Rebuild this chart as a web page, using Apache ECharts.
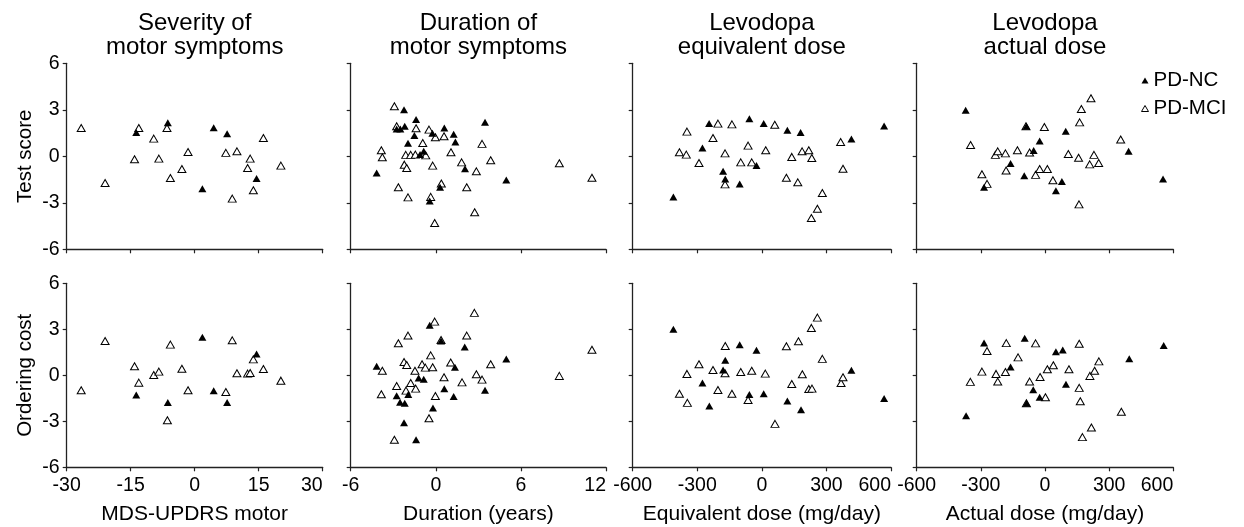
<!DOCTYPE html>
<html><head><meta charset="utf-8">
<script src="https://cdn.jsdelivr.net/npm/echarts@6/dist/echarts.min.js"></script>
<style>html,body{margin:0;padding:0;background:#fff}#c{width:1244px;height:527px}</style>
</head><body><div id="c"></div>
<script>
// ---- text / categories ----
const panelTitles = ['Severity of\nmotor symptoms', 'Duration of\nmotor symptoms', 'Levodopa\nequivalent dose', 'Levodopa\nactual dose'];
const xAxisNames = ['MDS-UPDRS motor', 'Duration (years)', 'Equivalent dose (mg/day)', 'Actual dose (mg/day)'];
const rowNames = ['Test score', 'Ordering cost'];
const groupNames = ['PD-NC', 'PD-MCI'];
// ---- axis ticks ----
const xMins = [-30, -6, -600, -600];
const xMaxs = [30, 12, 600, 600];
const xSteps = [15, 6, 300, 300];
const yMin = -6, yMax = 6, yStep = 3;

// ---- data: [x, y] ----
const sevTestNC = [[-13.7,1.53],[-6.3,2.17],[1.8,-2.09],[4.45,1.85],[7.6,1.46],[14.5,-1.44]];
const sevTestMCI = [[-26.6,1.83],[-21.0,-1.72],[-13.1,1.83],[-14.1,-0.19],[-9.6,1.14],[-8.4,-0.15],[-6.5,1.83],[-5.7,-1.40],[-3.0,-0.82],[-1.56,0.28],[7.3,0.22],[9.9,0.32],[13.0,-0.15],[12.4,-0.75],[13.75,-2.19],[8.8,-2.73],[16.1,1.18],[20.2,-0.6]];
const sevOrderNC = [[-13.7,-1.28],[-6.3,-1.78],[1.8,2.48],[4.45,-1.0],[7.6,-1.78],[14.5,1.39]];
const sevOrderMCI = [[-26.6,-0.98],[-21.0,2.24],[-14.1,0.59],[-13.1,-0.48],[-9.6,0.02],[-8.4,0.24],[-5.7,2.0],[-6.4,-2.93],[-3.0,0.43],[-1.56,-0.98],[8.8,2.28],[7.3,-1.09],[9.9,0.13],[12.4,0.11],[13.0,0.15],[13.75,1.04],[16.1,0.41],[20.2,-0.35]];

const durTestNC = [[-4.17,-1.08],[-2.24,3.01],[-2.76,1.76],[-2.5,1.76],[-2.19,1.94],[-1.39,2.37],[-1.51,1.35],[-1.96,0.84],[-1.11,0.11],[-0.85,0.32],[-0.24,1.48],[0.6,1.83],[1.26,1.42],[1.38,0.92],[2.06,-0.8],[3.47,2.19],[0.3,-2.0],[-0.43,-2.88],[4.97,-1.53]];
const durTestMCI = [[-2.92,3.23],[-3.84,0.39],[-3.77,-0.06],[-2.76,1.94],[-2.22,-0.54],[-2.05,-0.75],[-2.64,-2.0],[-1.96,-2.65],[-2.12,0.09],[-1.77,0.09],[-1.44,0.11],[-1.39,1.81],[-0.92,0.86],[-0.71,0.06],[-0.48,1.72],[-0.22,-0.6],[-0.36,-2.62],[-0.08,-4.3],[-0.03,1.23],[0.58,1.29],[0.39,-1.76],[1.07,0.26],[1.82,-0.39],[2.18,-2.0],[2.86,-0.97],[3.26,0.80],[3.87,-0.26],[2.74,-3.61],[8.71,-0.45],[11.01,-1.38]];
const durOrderNC = [[-4.17,0.59],[-0.43,3.26],[0.37,2.24],[2.04,1.85],[4.97,1.07],[1.35,0.52],[-1.21,-0.17],[-0.85,-0.26],[0.6,-0.87],[-2.76,-1.33],[-1.94,-1.26],[-2.52,-1.76],[-2.19,-1.83],[1.26,-1.39],[3.47,-0.98],[-0.2,-2.13],[-2.24,-3.09],[-1.39,-4.2]];
const durOrderMCI = [[2.72,4.07],[-0.08,3.5],[-1.96,2.59],[-2.64,2.09],[0.37,2.30],[2.18,2.59],[-0.36,1.30],[-2.24,0.87],[-2.05,0.67],[-3.77,0.30],[-1.47,0.30],[-0.97,0.72],[-0.74,0.50],[-0.22,0.52],[1.05,0.83],[3.87,0.72],[0.58,-0.13],[1.85,-0.46],[2.86,0.07],[3.26,-0.28],[-2.76,-0.70],[-1.77,-0.5],[-1.42,-0.87],[-2.1,-1.0],[-3.84,-1.24],[-0.03,-1.35],[-0.48,-2.80],[-2.92,-4.2],[8.71,-0.04],[11.01,1.67]];

const eqTestNC = [[-411,-2.62],[-276,0.54],[-245,2.11],[-58,2.43],[8.6,2.11],[-180,-0.97],[-170,-1.46],[-103,-1.78],[-25,-0.6],[118.5,1.68],[180,1.53],[416,1.12],[568,1.96]];
const eqTestMCI = [[-348,1.59],[-383,0.26],[-351,0.11],[-292,-0.43],[-227,1.18],[-204,2.11],[-139,2.06],[-171,0.19],[-171,-1.81],[-98,-0.39],[-64,0.69],[-47,-0.39],[18,0.39],[60,2.04],[114,-1.38],[139,-0.04],[167,-1.68],[187,0.32],[218,0.39],[232,-0.11],[281,-2.37],[258,-3.38],[230,-3.98],[366,0.92],[377,-0.80]];
const eqOrderNC = [[-411,3.0],[-276,-0.5],[-244,-2.0],[-180,0.35],[-170,0.98],[-103,2.0],[-25,1.63],[-58,-1.26],[8.6,-1.2],[118.5,-1.67],[182,-2.24],[416,0.33],[568,-1.52]];
const eqOrderMCI = [[-170,1.91],[-292,0.72],[-227,0.35],[-348,0.09],[-383,-1.2],[-346,-1.8],[-204,-0.96],[-171,0.13],[-139,-1.2],[-98,0.22],[-64,-1.61],[-47,0.30],[16,0.11],[61,-3.17],[114,1.89],[139,-0.57],[170,2.22],[188,0.07],[218,-0.89],[233,-0.87],[230,3.09],[258,3.76],[281,1.07],[368,-0.5],[377,-0.13]];

const actTestNC = [[-371,2.97],[-285,-2.0],[-161,-0.47],[-97,-1.25],[-87,1.94],[-53,0.37],[-25,0.99],[51,-2.22],[79,-1.63],[97,1.61],[391,0.32],[552,-1.46]];
const actTestMCI = [[-348,0.73],[-295,-1.16],[-271,-1.78],[-232,0.09],[-221,0.32],[-185,0.19],[-182,-0.92],[-129,0.39],[-89,1.94],[-72,0.24],[-44,-1.2],[-25,-0.82],[11,-0.82],[-3,1.89],[37,-1.55],[109,0.15],[157,-0.09],[170,3.05],[162,2.19],[215,3.74],[159,-3.1],[209,-0.52],[229,0.09],[251,-0.43],[354,1.08]];
const actOrderNC = [[-369,-2.64],[-285,2.1],[-161,0.54],[-95,2.42],[-55,-0.95],[-25,-1.43],[-86,-1.82],[51,1.54],[83,1.65],[98,-0.58],[394,1.08],[555,1.95]];
const actOrderMCI = [[-349,-0.43],[-295,0.24],[-271,1.58],[-229,0.09],[-221,-0.41],[-185,0.22],[-181,2.1],[-126,1.17],[-87,-1.82],[-72,-0.41],[-44,2.08],[-23,-0.11],[2,-1.43],[11,0.39],[39,0.65],[112,0.39],[160,2.06],[160,-0.82],[165,-1.69],[210,-0.04],[232,0.30],[252,0.91],[175,-4.03],[217,-3.4],[357,-2.38]];

const panelData = [
  [[sevTestNC, sevTestMCI], [durTestNC, durTestMCI], [eqTestNC, eqTestMCI], [actTestNC, actTestMCI]],
  [[sevOrderNC, sevOrderMCI], [durOrderNC, durOrderMCI], [eqOrderNC, eqOrderMCI], [actOrderNC, actOrderMCI]]
];

// ---- layout ----
const FONT = "'Liberation Sans', Arial, sans-serif";
const gridLefts = [66.7, 350.7, 632.7, 916.7];
const gridWidths = [256, 255.3, 258.3, 256.6];
const gridTops = [63.3, 283.3];
const gridHeights = [186, 184];

const chart = echarts.init(document.getElementById('c'), null, {renderer: 'canvas'});
const grids = [], xAxes = [], yAxes = [], series = [], titles = [];
const axisLine = {show: true, onZero: false, lineStyle: {color: '#222', width: 1.3}};
const axisTick = {show: true, inside: false, length: 4, lineStyle: {color: '#222', width: 1.2}};
for (let r = 0; r < 2; r++) {
  for (let c = 0; c < 4; c++) {
    const gi = r * 4 + c;
    grids.push({left: gridLefts[c], top: gridTops[r], width: gridWidths[c], height: gridHeights[r], containLabel: false});
    xAxes.push({
      gridIndex: gi, type: 'value', min: xMins[c], max: xMaxs[c], interval: xSteps[c], position: 'bottom',
      axisLine, axisTick, splitLine: {show: false},
      axisLabel: {show: r === 1, color: '#000', fontSize: 19.5, fontFamily: FONT, margin: 8, alignMaxLabel: 'right'},
      name: r === 1 ? xAxisNames[c] : '', nameLocation: 'middle', nameGap: 36,
      nameTextStyle: {color: '#000', fontSize: 21, fontFamily: FONT}
    });
    yAxes.push({
      gridIndex: gi, type: 'value', min: yMin, max: yMax, interval: yStep, position: 'left',
      axisLine, axisTick, splitLine: {show: false},
      axisLabel: {show: c === 0, color: '#000', fontSize: 19.5, fontFamily: FONT, margin: 7},
      name: c === 0 ? rowNames[r] : '', nameLocation: 'middle', nameGap: 31,
      nameTextStyle: {color: '#000', fontSize: 20.5, fontFamily: FONT}
    });
    const [nc, mci] = panelData[r][c];
    series.push({
      name: groupNames[0], type: 'scatter', xAxisIndex: gi, yAxisIndex: gi, data: nc,
      symbol: 'triangle', symbolSize: [8, 7], itemStyle: {color: '#000', opacity: 1},
      emphasis: {disabled: true}, z: 3
    });
    series.push({
      name: groupNames[1], type: 'scatter', xAxisIndex: gi, yAxisIndex: gi, data: mci,
      symbol: 'triangle', symbolSize: [8, 7], itemStyle: {color: '#fff', borderColor: '#000', borderWidth: 1, opacity: 1},
      emphasis: {disabled: true}, z: 2
    });
  }
}
for (let c = 0; c < 4; c++) {
  titles.push({
    text: panelTitles[c], left: gridLefts[c] + gridWidths[c] / 2, top: 11, textAlign: 'center', padding: 0,
    textStyle: {color: '#000', fontSize: 24, fontWeight: 'normal', fontFamily: FONT, lineHeight: 24.5}
  });
}

chart.setOption({
  animation: false,
  backgroundColor: '#fff',
  title: titles,
  legend: {
    data: [
      {name: groupNames[0], icon: 'triangle', itemStyle: {color: '#000'}},
      {name: groupNames[1], icon: 'triangle', itemStyle: {color: '#fff', borderColor: '#000', borderWidth: 1}}
    ],
    orient: 'vertical', left: 1141, top: 70, padding: 0, itemGap: 7,
    itemWidth: 7, itemHeight: 6,
    textStyle: {color: '#000', fontSize: 20.5, fontFamily: FONT, lineHeight: 20}
  },
  grid: grids, xAxis: xAxes, yAxis: yAxes, series
});
</script></body></html>
